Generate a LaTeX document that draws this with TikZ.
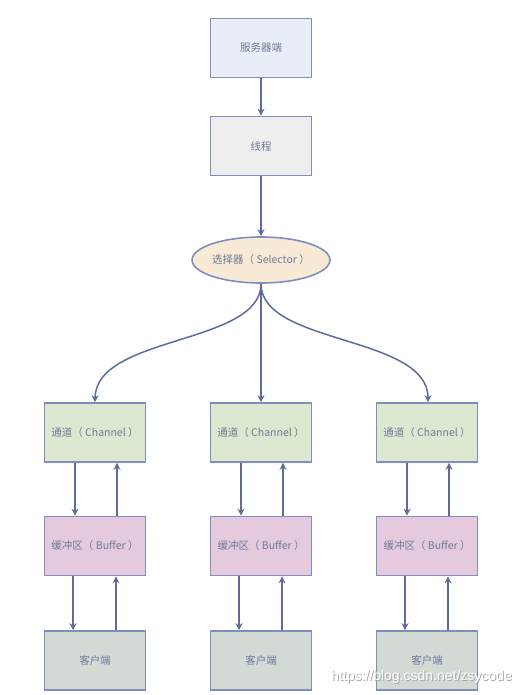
\documentclass[tikz,border=0pt]{standalone}
\usepackage{fontspec}
\setmainfont{Noto Sans CJK SC}
\newfontfamily\wmfont{Liberation Sans}
\usetikzlibrary{arrows.meta,shapes.geometric}
\definecolor{bd}{HTML}{7F8DBF}
\definecolor{ar}{HTML}{5E6C9C}
\definecolor{tx}{HTML}{6E7A9A}
\definecolor{fserver}{HTML}{E9EDF7}
\definecolor{fthread}{HTML}{EEEEEE}
\definecolor{fsel}{HTML}{F8EAD4}
\definecolor{fchan}{HTML}{DDE8D1}
\definecolor{fbuf}{HTML}{E5CADD}
\definecolor{fcli}{HTML}{D2DAD3}
\tikzset{
  box/.style={draw=bd,line width=1.6pt,minimum width=101pt,minimum height=59pt,inner sep=0pt,text=tx,font=\fontsize{10.5}{12}\selectfont},
  conn/.style={draw=ar,line width=1.5pt,-{Stealth[length=7pt,width=7pt]}},
  wm/.style={font=\wmfont\fontsize{14}{16}\selectfont,anchor=east,inner sep=0pt},
}
\begin{document}
\begin{tikzpicture}[x=1pt,y=-1pt]
\useasboundingbox (0,0) rectangle (517,695);
\node[box,fill=fserver] (srv) at (261,48) {服务器端};
\node[box,fill=fthread] (thr) at (261,146) {线程};
\node[draw=bd,line width=1.6pt,ellipse,fill=fsel,minimum width=135pt,minimum height=46pt,inner sep=0pt,text=tx,font=\fontsize{10.5}{12}\selectfont] (sel) at (261,260) {选择器（ Selector ）};
\foreach \n/\x in {a/95,b/261,c/427}{
  \node[box,fill=fchan] (ch\n) at (\x,432.5) {通道（ Channel ）};
  \node[box,fill=fbuf] (bf\n) at (\x,546) {缓冲区（ Buffer ）};
  \node[box,fill=fcli] (cl\n) at (\x,660.5) {客户端};
  \draw[conn] ([xshift=-20pt]ch\n.south) -- ([xshift=-20pt]bf\n.north);
  \draw[conn] ([xshift=22pt]bf\n.north) -- ([xshift=22pt]ch\n.south);
  \draw[conn] ([xshift=-22pt]bf\n.south) -- ([xshift=-22pt]cl\n.north);
  \draw[conn] ([xshift=21pt]cl\n.north) -- ([xshift=21pt]bf\n.south);
}
\draw[conn] (srv) -- (thr);
\draw[conn] (thr) -- (sel);
\draw[conn] (sel.south) -- (chb.north);
\draw[conn] (sel.south) .. controls (261,345) and (96,335) .. (cha.north);
\draw[conn] (sel.south) .. controls (261,345) and (428,335) .. ([xshift=1pt]chc.north);
\node[wm,text=black!35] (wms) at (513,678) {https://blog.csdn.net/zsycode};
\node[wm,text=white] (wm) at (512,677) {https://blog.csdn.net/zsycode};
\end{tikzpicture}
\end{document}
